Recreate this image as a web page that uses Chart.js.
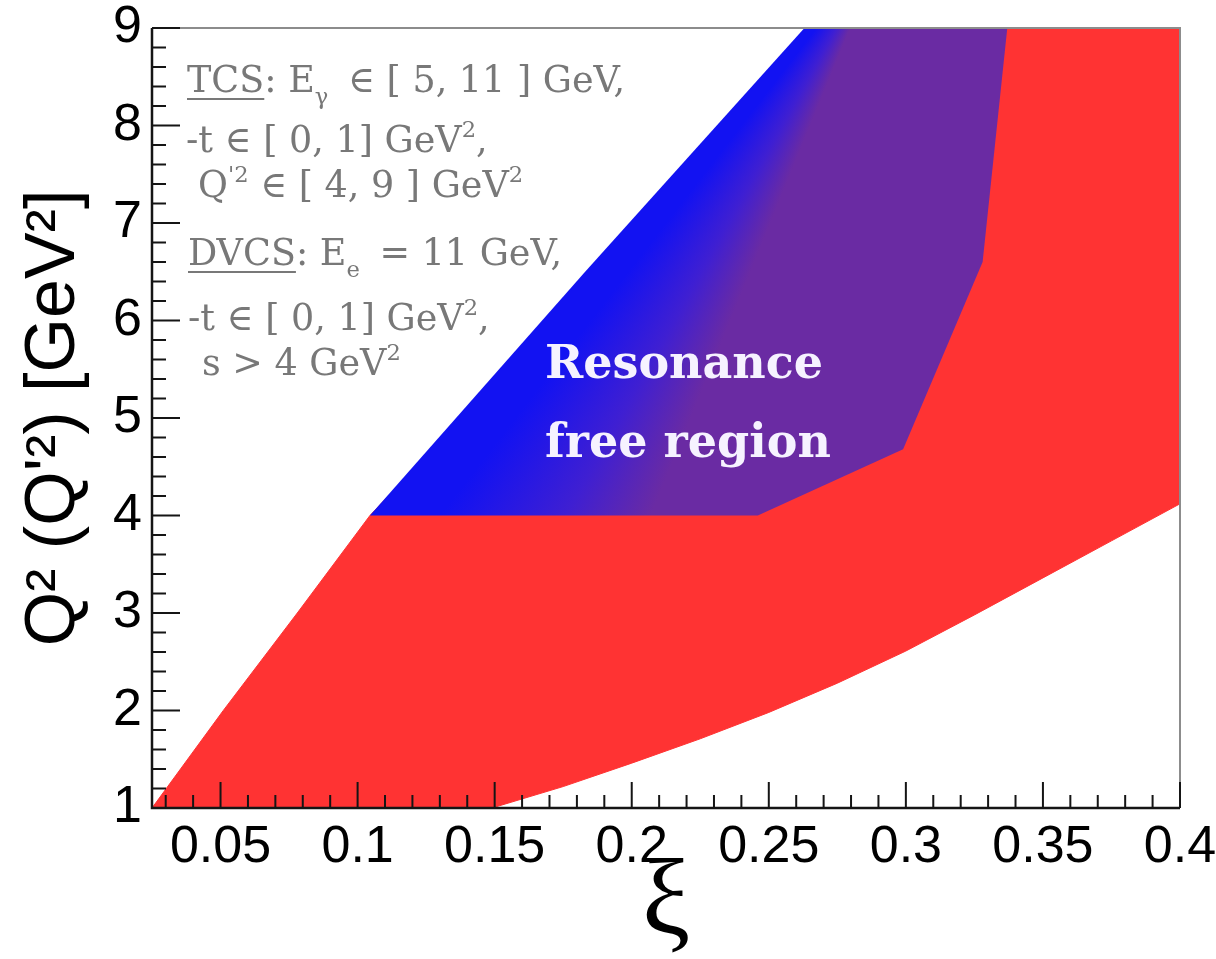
<!DOCTYPE html>
<html>
<head>
<meta charset="utf-8">
<title>DVCS / TCS kinematic coverage</title>
<script src="https://cdn.jsdelivr.net/npm/chart.js@4.4.1/dist/chart.umd.min.js"></script>
<style>
  html, body { margin: 0; padding: 0; background: #fff; }
  #plot { display: block; }
</style>
</head>
<body>
<canvas id="plot" width="1216" height="959"></canvas>
<script>
// Region outlines: xi, Q2 [GeV^2]
// DVCS (red): up the upper-left edge, along Q2 = 9, down xi = 0.4, back along the lower edge
const dvcsXi = [0.025, 0.051, 0.078, 0.1045, 0.138, 0.170, 0.204, 0.240, 0.278, 0.400, 0.400, 0.375, 0.350, 0.325, 0.300, 0.275, 0.250, 0.225, 0.200, 0.175, 0.149, 0.025];
const dvcsQ2 = [1.00, 2.00, 3.00, 4.00, 5.00, 6.00, 7.00, 8.00, 9.00, 9.00, 4.12, 3.74, 3.36, 2.98, 2.61, 2.28, 1.98, 1.71, 1.46, 1.22, 1.00, 1.00];

// TCS (blue): Q'2 in [4, 9]
const tcsXi = [0.1045, 0.183, 0.263, 0.337, 0.328, 0.299, 0.246, 0.1045];
const tcsQ2 = [4.00, 6.50, 9.00, 9.00, 6.60, 4.68, 4.00, 4.00];

// Axes
const xTicks = [0.05, 0.1, 0.15, 0.2, 0.25, 0.3, 0.35, 0.4];
const xTickLabels = ["0.05", "0.1", "0.15", "0.2", "0.25", "0.3", "0.35", "0.4"];
const yTicks = [1, 2, 3, 4, 5, 6, 7, 8, 9];
const yTickLabels = ["1", "2", "3", "4", "5", "6", "7", "8", "9"];

const RED = "#ff3333";
const BLUE = "#1212f2";
const MIX = "#3f1fd2";
const PURPLE = "#6a2ba3";
const GREY = "#787878";

const toPoints = (xs, ys) => xs.map((x, i) => ({ x: x, y: ys[i] }));

// Blue fades into purple where the red points overlap
function tcsFill(context) {
  const chart = context.chart;
  const xs = chart.scales.x, ys = chart.scales.y;
  if (!xs || !ys || !chart.chartArea || !chart.ctx.createConicGradient) return PURPLE;
  const cx = xs.getPixelForValue(0.2935), cy = ys.getPixelForValue(9.95);
  const turn = (xi, q) => {
    let a = Math.atan2(ys.getPixelForValue(q) - cy, xs.getPixelForValue(xi) - cx);
    if (a < 0) a += 2 * Math.PI;
    return a / (2 * Math.PI);
  };
  const g = chart.ctx.createConicGradient(0, cx, cy);
  g.addColorStop(0, PURPLE);
  g.addColorStop(turn(0.207, 4), PURPLE);
  g.addColorStop(turn(0.176, 4), MIX);
  g.addColorStop(turn(0.13, 4), BLUE);
  g.addColorStop(1, BLUE);
  return g;
}

// keep the frame where it is, whatever the edge labels need
function noEdgePadding(s) {
  s.paddingTop = 0; s.paddingBottom = 0; s.paddingLeft = 0; s.paddingRight = 0;
}

// ROOT style frame with inner ticks
const rootFrame = {
  id: "rootFrame",
  afterDatasetsDraw(chart) {
    const { ctx, chartArea: a, scales: { x, y } } = chart;
    ctx.save();
    ctx.strokeStyle = "#8c8c8c";
    ctx.lineWidth = 2;
    ctx.beginPath();
    ctx.moveTo(a.left, a.top); ctx.lineTo(a.right, a.top); ctx.lineTo(a.right, a.bottom);
    ctx.stroke();

    ctx.strokeStyle = "#151515";
    ctx.lineWidth = 2.5;
    ctx.beginPath();
    ctx.moveTo(a.left, a.top); ctx.lineTo(a.left, a.bottom); ctx.lineTo(a.right, a.bottom);
    ctx.stroke();

    ctx.lineWidth = 2;
    ctx.beginPath();
    for (let k = 3; k <= 40; k++) {
      const px = x.getPixelForValue(k / 100);
      const len = k % 5 === 0 ? 26 : 13;
      ctx.moveTo(px, a.bottom); ctx.lineTo(px, a.bottom - len);
    }
    for (let k = 5; k <= 45; k++) {
      const py = y.getPixelForValue(k / 5);
      const len = k % 5 === 0 ? 28 : 14;
      ctx.moveTo(a.left, py); ctx.lineTo(a.left + len, py);
    }
    ctx.stroke();
    ctx.restore();
  }
};

// Text boxes
const noteLines = [
  { x: 187, y: 92,  parts: [{ t: "TCS", u: true }, { t: ": E" }, { t: "γ", sub: true, gap: 8 }, { t: " ∈ [ 5, 11 ] GeV," }] },
  { x: 186, y: 152, parts: [{ t: "-t ∈ [ 0, 1] GeV" }, { t: "2", sup: true }, { t: "," }] },
  { x: 198, y: 197, parts: [{ t: "Q" }, { t: "'2", sup: true }, { t: " ∈ [ 4, 9 ] GeV" }, { t: "2", sup: true }] },
  { x: 188, y: 265, parts: [{ t: "DVCS", u: true }, { t: ": E" }, { t: "e", sub: true, gap: 8 }, { t: " = 11 GeV," }] },
  { x: 188, y: 330, parts: [{ t: "-t ∈ [ 0, 1] GeV" }, { t: "2", sup: true }, { t: "," }] },
  { x: 202, y: 375, parts: [{ t: "s > 4 GeV" }, { t: "2", sup: true }] }
];

function drawRich(ctx, x, y, parts, size) {
  parts.forEach(p => {
    const small = p.sub || p.sup;
    ctx.font = (small ? size * 0.62 : size) + 'px "DejaVu Serif"';
    const dy = p.sub ? size * 0.34 : p.sup ? -size * 0.4 : 0;
    ctx.fillText(p.t, x, y + dy);
    const w = ctx.measureText(p.t).width;
    if (p.u) ctx.fillRect(x, y + 6, w, 2);
    x += w + (p.gap || 0);
  });
}

const notes = {
  id: "notes",
  afterDraw(chart) {
    const ctx = chart.ctx;
    ctx.save();
    ctx.textBaseline = "alphabetic";
    ctx.textAlign = "left";
    ctx.fillStyle = GREY;
    noteLines.forEach(l => drawRich(ctx, l.x, l.y, l.parts, 36.5));
    ctx.fillStyle = "#f6f2ff";
    ctx.font = 'bold 46px "DejaVu Serif"';
    ctx.fillText("Resonance", 545, 378);
    ctx.fillText("free region", 545, 457);
    ctx.restore();
  }
};

new Chart(document.getElementById("plot"), {
  type: "scatter",
  data: {
    datasets: [
      {
        label: "TCS",
        data: toPoints(tcsXi, tcsQ2),
        showLine: true,
        fill: "shape",
        backgroundColor: tcsFill,
        borderColor: "transparent",
        borderWidth: 0,
        pointRadius: 0
      },
      {
        label: "DVCS",
        data: toPoints(dvcsXi, dvcsQ2),
        showLine: true,
        fill: "shape",
        backgroundColor: RED,
        borderColor: RED,
        borderWidth: 1,
        pointRadius: 0
      }
    ]
  },
  options: {
    responsive: false,
    devicePixelRatio: 1,
    animation: false,
    layout: { padding: { top: 28, right: 36, left: 0, bottom: 0 } },
    plugins: { legend: { display: false }, tooltip: { enabled: false } },
    scales: {
      x: {
        type: "linear",
        min: 0.025,
        max: 0.4,
        afterFit: s => { s.height = 151; noEdgePadding(s); },
        afterBuildTicks: s => { s.ticks = xTicks.map(v => ({ value: v })); },
        grid: { display: false, drawTicks: false },
        border: { display: false },
        ticks: {
          callback: v => xTickLabels[xTicks.indexOf(v)],
          font: { family: "Liberation Sans", size: 52, lineHeight: 1 },
          color: "#000",
          padding: 14,
          maxRotation: 0,
          autoSkip: false
        },
        title: {
          display: true,
          text: "ξ",
          font: { family: "Liberation Serif", size: 108, lineHeight: 1 },
          color: "#000",
          padding: { top: 0, bottom: 0 }
        }
      },
      y: {
        type: "linear",
        min: 1,
        max: 9,
        afterFit: s => { s.width = 152; noEdgePadding(s); },
        afterBuildTicks: s => { s.ticks = yTicks.map(v => ({ value: v })); },
        grid: { display: false, drawTicks: false },
        border: { display: false },
        ticks: {
          callback: v => yTickLabels[yTicks.indexOf(v)],
          font: { family: "Liberation Sans", size: 52, lineHeight: 1 },
          color: "#000",
          padding: 10
        },
        title: {
          display: true,
          text: "Q² (Q'²) [GeV²]",
          font: { family: "Liberation Sans", size: 70, lineHeight: 1 },
          color: "#000",
          padding: { top: 20, bottom: 0 }
        }
      }
    }
  },
  plugins: [rootFrame, notes]
});
</script>
</body>
</html>
